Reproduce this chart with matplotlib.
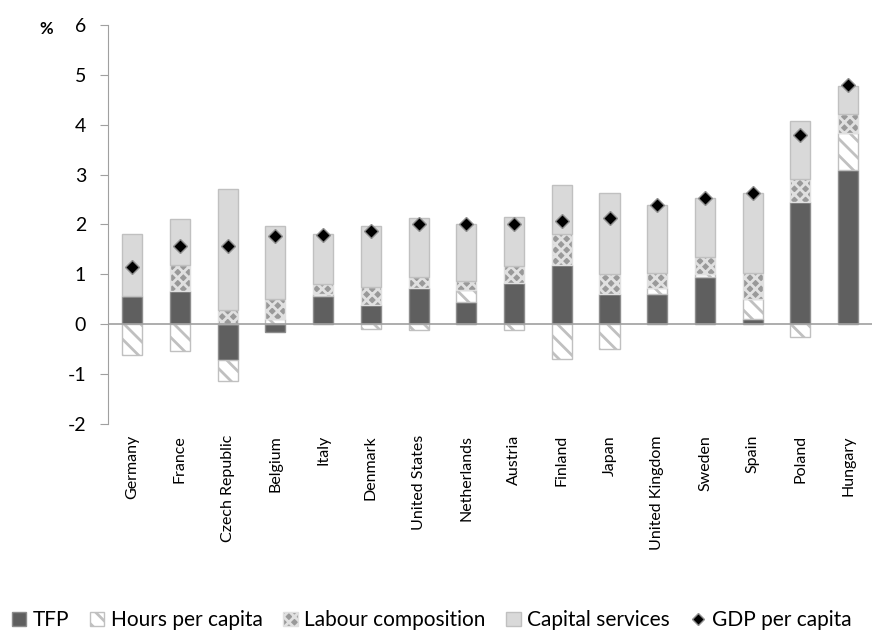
import numpy as np
import matplotlib.pyplot as plt
from matplotlib.lines import Line2D
from matplotlib.patches import Patch

plt.rcParams['font.family'] = ['Lato', 'DejaVu Sans']
plt.rcParams['hatch.linewidth'] = 2.0
plt.rcParams['axes.unicode_minus'] = False

countries = ["Germany", "France", "Czech Republic", "Belgium", "Italy", "Denmark",
             "United States", "Netherlands", "Austria", "Finland", "Japan",
             "United Kingdom", "Sweden", "Spain", "Poland", "Hungary"]
tfp = [0.56, 0.67, -0.71, -0.15, 0.57, 0.39, 0.73, 0.44, 0.83, 1.19, 0.60, 0.61, 0.95, 0.10, 2.45, 3.10]
hours = [-0.62, -0.53, -0.43, 0.10, 0.04, -0.09, -0.11, 0.25, -0.11, -0.69, -0.49, 0.12, 0.05, 0.40, -0.26, 0.73]
labour = [0.00, 0.51, 0.29, 0.40, 0.19, 0.36, 0.22, 0.18, 0.33, 0.61, 0.41, 0.30, 0.34, 0.53, 0.46, 0.39]
capital = [1.24, 0.93, 2.43, 1.46, 1.00, 1.22, 1.17, 1.14, 0.99, 0.99, 1.62, 1.37, 1.19, 1.60, 1.17, 0.56]
gdp = [1.15, 1.56, 1.56, 1.77, 1.78, 1.86, 2.00, 2.01, 2.00, 2.06, 2.12, 2.40, 2.53, 2.63, 3.80, 4.80]

fig = plt.figure(figsize=(8.8, 6.4), dpi=100)
ax = fig.add_axes([0.123, 0.3375, 0.868, 0.6235])

x = np.arange(len(countries))
w = 0.42
pos = np.zeros(len(x))
neg = np.zeros(len(x))

styles = [
    (tfp, dict(facecolor="#5f5f5f", edgecolor="#8c8c8c")),
    (hours, dict(facecolor="white", edgecolor="#c0c0c0", hatch="\\\\")),
    (labour, dict(facecolor="#999999", edgecolor="#e0e0e0", hatch="xxx")),
    (capital, dict(facecolor="#d9d9d9", edgecolor="#c0c0c0")),
]
for vals, st in styles:
    v = np.array(vals)
    base = np.where(v >= 0, pos, neg)
    ax.bar(x, v, w, bottom=base, linewidth=1.0, zorder=2, **st)
    pos = pos + np.where(v >= 0, v, 0)
    neg = neg + np.where(v < 0, v, 0)

ax.plot(x, gdp, linestyle="none", marker="D", markersize=7, color="black",
        markeredgecolor="#909090", markeredgewidth=1.0, zorder=4)

ax.set_xlim(-0.5, len(x) - 0.5)
ax.set_ylim(-2, 6)
ax.set_yticks(range(-2, 7))
ax.axhline(0, color="#a0a0a0", linewidth=1.2, zorder=3)
for s in ["top", "right", "bottom"]:
    ax.spines[s].set_visible(False)
ax.spines["left"].set_color("#a0a0a0")
ax.tick_params(axis="y", colors="#a0a0a0", labelcolor="black", labelsize=14, length=6, pad=10)
ax.set_xticks(x)
ax.set_xticklabels(countries, rotation=90, fontsize=11.5)
ax.tick_params(axis="x", length=0, pad=8)

fig.text(0.045, 0.955, "%", fontsize=12, fontweight="bold", ha="left", va="center")

handles = [
    Patch(facecolor="#5f5f5f", edgecolor="#8c8c8c", label="TFP"),
    Patch(facecolor="white", edgecolor="#c0c0c0", hatch="\\\\", label="Hours per capita"),
    Patch(facecolor="#999999", edgecolor="#e0e0e0", hatch="xxx", label="Labour composition"),
    Patch(facecolor="#d9d9d9", edgecolor="#c0c0c0", label="Capital services"),
    Line2D([], [], linestyle="none", marker="D", markersize=6, color="black",
           markeredgecolor="#909090", label="GDP per capita"),
]
fig.legend(handles=handles, loc="lower left", bbox_to_anchor=(-0.008, -0.014), ncol=5,
           frameon=False, fontsize=15, handlelength=0.7, handleheight=0.7,
           handletextpad=0.3, columnspacing=1.0)

fig.savefig("out.png", dpi=100)
